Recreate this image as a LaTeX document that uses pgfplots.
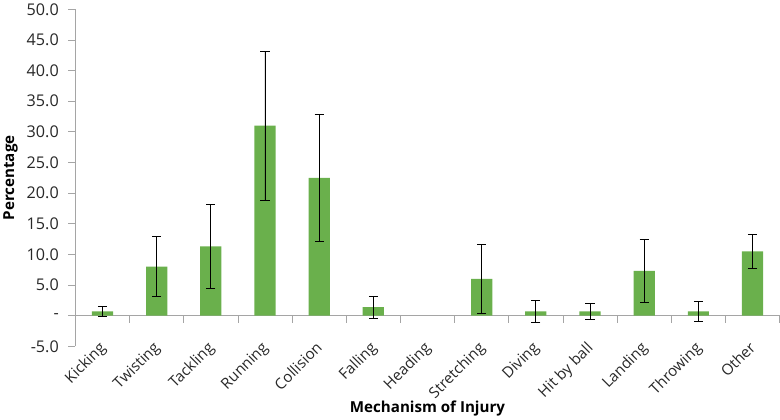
\documentclass[border=0pt]{standalone}
\usepackage{pgfplots}
\pgfplotsset{compat=1.18}
\usepackage{fontspec}
\setmainfont{Open Sans}
\definecolor{bargreen}{RGB}{106,176,76}
\definecolor{axgray}{RGB}{165,165,165}
\definecolor{txt}{RGB}{40,40,40}

% x = category index, y = percentage, e = error
\pgfplotstableread{
x y e
0 0.7 0.8
1 8.0 4.9
2 11.3 6.8
3 31.0 12.2
4 22.5 10.3
5 1.4 1.8
7 6.0 5.6
8 0.7 1.75
9 0.7 1.35
10 7.3 5.1
11 0.7 1.6
12 10.5 2.8
}\injury

\begin{document}
\begin{tikzpicture}
\begin{axis}[
    scale only axis,
    width=698pt, height=334pt,
    xmin=-0.5, xmax=12.5,
    ymin=-5, ymax=50,
    axis lines*=left,
    x axis line style={draw=none},
    y axis line style={axgray, line width=0.8pt},
    tick align=outside,
    major tick length=7pt,
    ytick={-5,0,...,50},
    yticklabels={-5.0,-,5.0,10.0,15.0,20.0,25.0,30.0,35.0,40.0,45.0,50.0},
    y tick style={axgray, line width=0.8pt},
    xtick={0,...,12},
    xticklabels={Kicking,Twisting,Tackling,Running,Collision,Falling,Heading,Stretching,Diving,Hit by ball,Landing,Throwing,Other},
    x tick style={draw=none},
    xticklabel style={rotate=45, anchor=north east, font=\fontsize{15}{17}\selectfont, text=txt, inner sep=0pt, xshift=6pt, yshift=12pt},
    yticklabel style={font=\fontsize{16}{18}\selectfont, text=txt, xshift=-6pt},
    ylabel={\textbf{Percentage}},
    xlabel={\textbf{Mechanism of Injury}},
    label style={font=\fontsize{15}{17}\selectfont, text=black},
    ylabel style={yshift=2pt},
    xlabel style={yshift=4pt},
    clip=false,
]
\draw[axgray, line width=0.8pt] (axis cs:-0.5,0) -- (axis cs:12.5,0);
\pgfplotsinvokeforeach{-0.5,0.5,...,12.5}{
  \draw[axgray, line width=0.8pt] (axis cs:#1,0) -- ++(0pt,-7pt);
}
\addplot[ybar, bar width=21pt, fill=bargreen, draw=none,
    error bars/.cd, y dir=both, y explicit,
    error bar style={black, line width=0.8pt},
    error mark options={rotate=90, mark size=4.5pt, black, line width=0.8pt}]
    table[x=x, y=y, y error=e] {\injury};
\end{axis}
\end{tikzpicture}
\end{document}
